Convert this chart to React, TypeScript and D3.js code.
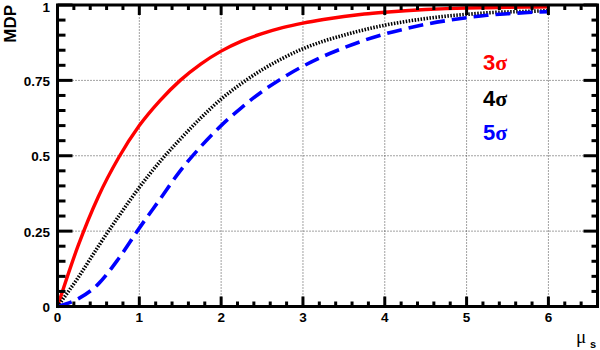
import React from "react";
import * as d3 from "d3";

const xValues = [0, 0.25, 0.5, 0.75, 1, 1.25, 1.5, 1.75, 2, 2.25, 2.5, 2.75, 3, 3.25, 3.5, 3.75, 4, 4.25, 4.5, 4.75, 5, 5.25, 5.5, 5.75, 6];
const mdp3sigma = [0, 0.2, 0.365, 0.495, 0.6, 0.682, 0.75, 0.804, 0.847, 0.88, 0.905, 0.925, 0.94, 0.952, 0.962, 0.97, 0.976, 0.981, 0.985, 0.988, 0.99, 0.991, 0.992, 0.993, 0.994];
const mdp4sigma = [0, 0.095, 0.2, 0.3, 0.395, 0.48, 0.555, 0.625, 0.688, 0.74, 0.785, 0.823, 0.855, 0.88, 0.9, 0.918, 0.933, 0.945, 0.955, 0.963, 0.969, 0.974, 0.977, 0.979, 0.981];
const mdp5sigma = [0, 0.025, 0.075, 0.16, 0.26, 0.355, 0.45, 0.53, 0.6, 0.66, 0.713, 0.758, 0.797, 0.83, 0.858, 0.883, 0.904, 0.921, 0.936, 0.948, 0.958, 0.966, 0.971, 0.975, 0.978];

const xMajorTicks = [0, 1, 2, 3, 4, 5, 6];
const yMajorTicks = [0, 0.25, 0.5, 0.75, 1];
const yTickLabels = ["0", "0.25", "0.5", "0.75", "1"];
const seriesLabels = ["3", "4", "5"];

export default function App() {
  const W = 600, H = 350;
  const x = d3.scaleLinear().domain([0, 6.6]).range([57.5, 597.5]);
  const y = d3.scaleLinear().domain([0, 1]).range([306.5, 5]);
  const line = d3.line<number>().x((_, i) => x(xValues[i])).y((d) => y(d)).curve(d3.curveMonotoneX);

  const xMinor = d3.range(0, 33).map((i) => i * 0.2).filter((v) => v <= 6.6 && Math.abs(v - Math.round(v)) > 1e-6);
  const yMinor = d3.range(0, 21).map((i) => i * 0.05).filter((v) => Math.abs(v * 4 - Math.round(v * 4)) > 1e-6);

  const font = "'Liberation Sans', Arial, sans-serif";
  const series = [
    { data: mdp3sigma, color: "#ff0000", dash: undefined as string | undefined, w: 3.4 },
    { data: mdp4sigma, color: "#000000", dash: "1.5 1.5", w: 3.6 },
    { data: mdp5sigma, color: "#0000ff", dash: "15 7", w: 3.6 },
  ];
  const labelColors = ["#ff0000", "#000000", "#0000ff"];
  const labelY = [70, 106, 140];

  return (
    <svg width={W} height={H} style={{ position: "absolute", left: 0, top: 0, background: "#fff" }}>
      <rect x={0} y={0} width={W} height={H} fill="#fff" />
      {xMajorTicks.filter((t) => t > 0).map((t) => (
        <line key={"gx" + t} x1={x(t)} x2={x(t)} y1={y(0)} y2={y(1)} stroke="#444" strokeWidth={1} strokeDasharray="1 2" />
      ))}
      {yMajorTicks.filter((t) => t > 0 && t < 1).map((t) => (
        <line key={"gy" + t} x1={x(0)} x2={x(6.6)} y1={y(t)} y2={y(t)} stroke="#444" strokeWidth={1} strokeDasharray="1 2" />
      ))}
      {series.map((s, i) => (
        <path key={"s" + i} d={line(s.data) || ""} fill="none" stroke={s.color} strokeWidth={s.w} strokeDasharray={s.dash} />
      ))}
      {xMajorTicks.map((t) => (
        <g key={"xt" + t}>
          <line x1={x(t)} x2={x(t)} y1={y(0)} y2={y(0) - 10} stroke="#000" strokeWidth={3} />
          <line x1={x(t)} x2={x(t)} y1={y(1)} y2={y(1) + 10} stroke="#000" strokeWidth={3} />
          <text x={x(t)} y={322} textAnchor="middle" fontFamily={font} fontWeight="bold" fontSize={13.5}>{t}</text>
        </g>
      ))}
      {xMinor.map((t) => (
        <g key={"xm" + t}>
          <line x1={x(t)} x2={x(t)} y1={y(0)} y2={y(0) - 5} stroke="#000" strokeWidth={3} />
          <line x1={x(t)} x2={x(t)} y1={y(1)} y2={y(1) + 5} stroke="#000" strokeWidth={3} />
        </g>
      ))}
      {yMajorTicks.map((t, i) => (
        <g key={"yt" + t}>
          <line x1={x(0)} x2={x(0) + 15} y1={y(t)} y2={y(t)} stroke="#000" strokeWidth={3} />
          <line x1={x(6.6)} x2={x(6.6) - 14} y1={y(t)} y2={y(t)} stroke="#000" strokeWidth={3} />
          <text x={50} y={Math.max(y(t) + 5.5, 12)} textAnchor="end" fontFamily={font} fontWeight="bold" fontSize={13.5}>{yTickLabels[i]}</text>
        </g>
      ))}
      {yMinor.map((t) => (
        <g key={"ym" + t}>
          <line x1={x(0)} x2={x(0) + 8} y1={y(t)} y2={y(t)} stroke="#000" strokeWidth={3} />
          <line x1={x(6.6)} x2={x(6.6) - 6} y1={y(t)} y2={y(t)} stroke="#000" strokeWidth={3} />
        </g>
      ))}
      <rect x={x(0)} y={y(1)} width={x(6.6) - x(0)} height={y(0) - y(1)} fill="none" stroke="#000" strokeWidth={3} />
      {seriesLabels.map((l, i) => (
        <text key={"l" + i} x={483} y={labelY[i]} fill={labelColors[i]} fontFamily={font} fontWeight="bold" fontSize={22}>
          {l}
          <tspan fontFamily="'Liberation Serif', serif" fontWeight="bold">σ</tspan>
        </text>
      ))}
      <text transform="translate(15.5,5) rotate(-90)" textAnchor="end" fontFamily={font} fontWeight="bold" fontSize={17}>MDP</text>
      <text x={576} y={343} fontFamily="'Liberation Serif', serif" fontSize={19}>μ</text>
      <text x={590} y={348} fontFamily={font} fontWeight="bold" fontSize={11}>s</text>
    </svg>
  );
}
